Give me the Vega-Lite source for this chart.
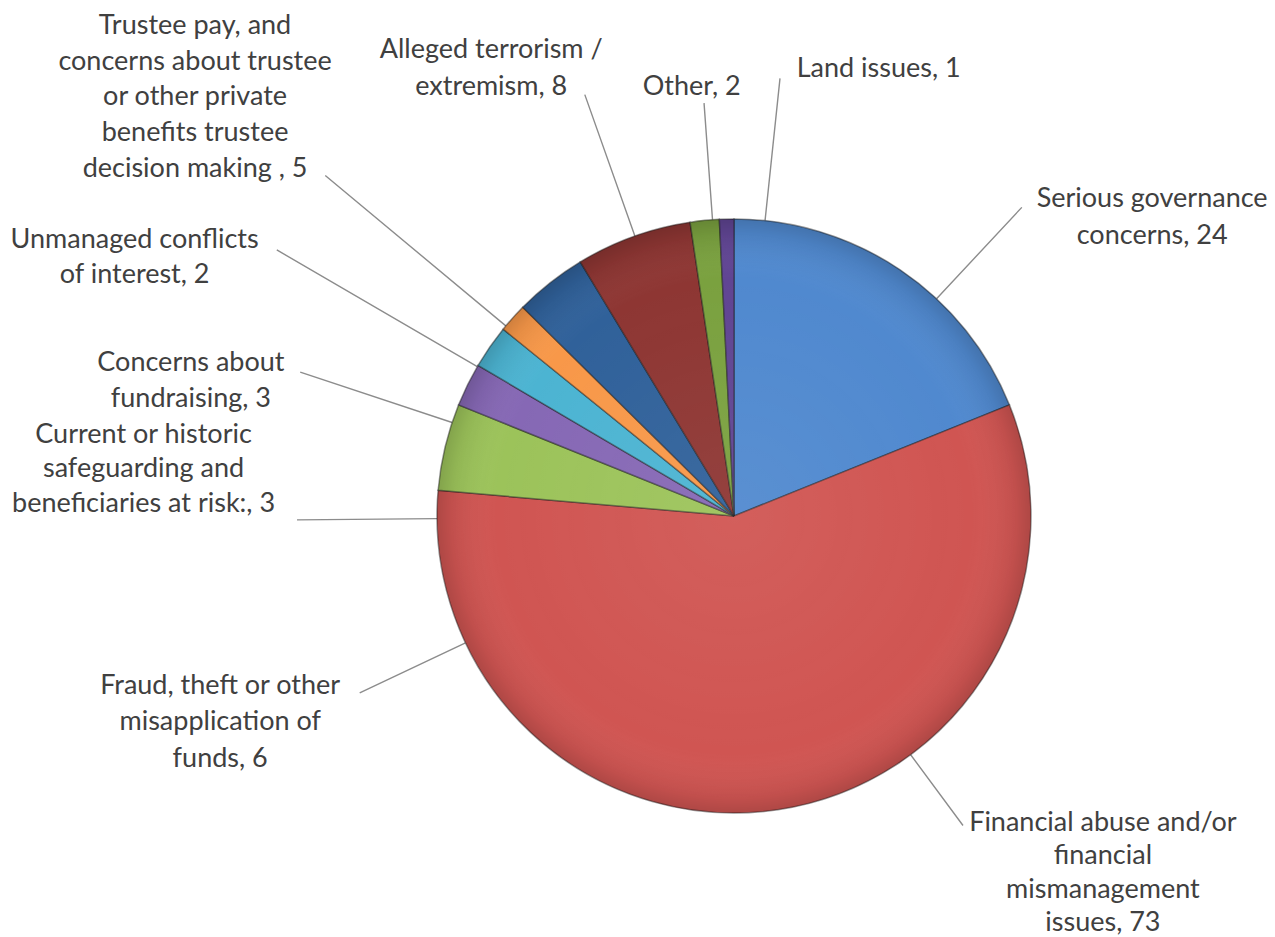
{
  "$schema": "https://vega.github.io/schema/vega-lite/v6.json",
  "width": 1082,
  "height": 842,
  "autosize": {"type": "none"},
  "padding": {"left": 193, "top": 95, "right": 0, "bottom": 0},
  "background": "#ffffff",
  "config": {
    "view": {"stroke": null},
    "text": {"font": "Lato", "fontSize": 27, "lineHeight": 35.5, "lineBreak": "\n", "color": "#404040", "align": "center", "baseline": "middle", "radius": 297},
    "arc": {"stroke": "#8c8c8c", "strokeWidth": 1.4, "fillOpacity": 0, "innerRadius": 297}
  },
  "data": {
    "values": [
      {"rank": 1, "category": "Serious governance concerns", "count": 24, "label": "Serious governance\nconcerns, 24"},
      {"rank": 2, "category": "Financial abuse and/or financial mismanagement issues", "count": 73, "label": "Financial abuse and/or\nfinancial\nmismanagement\nissues, 73"},
      {"rank": 3, "category": "Fraud, theft or other misapplication of funds", "count": 6, "label": "Fraud, theft or other\nmisapplication of\nfunds, 6"},
      {"rank": 4, "category": "Current or historic safeguarding and beneficiaries at risk:", "count": 3, "label": "Current or historic\nsafeguarding and\nbeneficiaries at risk:, 3"},
      {"rank": 5, "category": "Concerns about fundraising", "count": 3, "label": "Concerns about\nfundraising, 3"},
      {"rank": 6, "category": "Unmanaged conflicts of interest", "count": 2, "label": "Unmanaged conflicts\nof interest, 2"},
      {"rank": 7, "category": "Trustee pay, and concerns about trustee or other private benefits trustee decision making", "count": 5, "label": "Trustee pay, and\nconcerns about trustee\nor other private\nbenefits trustee\ndecision making , 5"},
      {"rank": 8, "category": "Alleged terrorism / extremism", "count": 8, "label": "Alleged terrorism /\nextremism, 8"},
      {"rank": 9, "category": "Other", "count": 2, "label": "Other, 2"},
      {"rank": 10, "category": "Land issues", "count": 1, "label": "Land issues, 1"}
    ]
  },
  "encoding": {
    "theta": {"field": "count", "type": "quantitative", "stack": true},
    "order": {"field": "rank", "type": "quantitative"},
    "detail": {"field": "category", "type": "nominal"}
  },
  "layer": [
    {"transform": [{"stack": "count", "groupby": [], "sort": [{"field": "rank", "order": "ascending"}], "as": ["t0", "t1"]}, {"filter": "datum.rank == 1"}],
     "mark": {"type": "arc", "outerRadius": 422, "thetaOffset": 0.7505, "theta2Offset": 0.7505},
     "encoding": {"theta": {"field": "t0", "type": "quantitative", "stack": null}, "theta2": {"field": "t0"}}},
    {"transform": [{"stack": "count", "groupby": [], "sort": [{"field": "rank", "order": "ascending"}], "as": ["t0", "t1"]}, {"filter": "datum.rank == 2"}],
     "mark": {"type": "arc", "outerRadius": 385, "thetaOffset": 1.3172, "theta2Offset": 1.3172},
     "encoding": {"theta": {"field": "t0", "type": "quantitative", "stack": null}, "theta2": {"field": "t0"}}},
    {"transform": [{"stack": "count", "groupby": [], "sort": [{"field": "rank", "order": "ascending"}], "as": ["t0", "t1"]}, {"filter": "datum.rank == 3"}],
     "mark": {"type": "arc", "outerRadius": 414, "thetaOffset": -0.5282, "theta2Offset": -0.5282},
     "encoding": {"theta": {"field": "t0", "type": "quantitative", "stack": null}, "theta2": {"field": "t0"}}},
    {"transform": [{"stack": "count", "groupby": [], "sort": [{"field": "rank", "order": "ascending"}], "as": ["t0", "t1"]}, {"filter": "datum.rank == 4"}],
     "mark": {"type": "arc", "outerRadius": 437, "thetaOffset": -0.3922, "theta2Offset": -0.3922},
     "encoding": {"theta": {"field": "t0", "type": "quantitative", "stack": null}, "theta2": {"field": "t0"}}},
    {"transform": [{"stack": "count", "groupby": [], "sort": [{"field": "rank", "order": "ascending"}], "as": ["t0", "t1"]}, {"filter": "datum.rank == 5"}],
     "mark": {"type": "arc", "outerRadius": 457, "thetaOffset": -0.2116, "theta2Offset": -0.2116},
     "encoding": {"theta": {"field": "t0", "type": "quantitative", "stack": null}, "theta2": {"field": "t0"}}},
    {"transform": [{"stack": "count", "groupby": [], "sort": [{"field": "rank", "order": "ascending"}], "as": ["t0", "t1"]}, {"filter": "datum.rank == 6"}],
     "mark": {"type": "arc", "outerRadius": 529, "thetaOffset": -0.1532, "theta2Offset": -0.1532},
     "encoding": {"theta": {"field": "t0", "type": "quantitative", "stack": null}, "theta2": {"field": "t0"}}},
    {"transform": [{"stack": "count", "groupby": [], "sort": [{"field": "rank", "order": "ascending"}], "as": ["t0", "t1"]}, {"filter": "datum.rank == 7"}],
     "mark": {"type": "arc", "outerRadius": 532, "thetaOffset": -0.0846, "theta2Offset": -0.0846},
     "encoding": {"theta": {"field": "t0", "type": "quantitative", "stack": null}, "theta2": {"field": "t0"}}},
    {"transform": [{"stack": "count", "groupby": [], "sort": [{"field": "rank", "order": "ascending"}], "as": ["t0", "t1"]}, {"filter": "datum.rank == 8"}],
     "mark": {"type": "arc", "outerRadius": 447, "thetaOffset": 0.2039, "theta2Offset": 0.2039},
     "encoding": {"theta": {"field": "t0", "type": "quantitative", "stack": null}, "theta2": {"field": "t0"}}},
    {"transform": [{"stack": "count", "groupby": [], "sort": [{"field": "rank", "order": "ascending"}], "as": ["t0", "t1"]}, {"filter": "datum.rank == 9"}],
     "mark": {"type": "arc", "outerRadius": 414, "thetaOffset": 0.0760, "theta2Offset": 0.0760},
     "encoding": {"theta": {"field": "t0", "type": "quantitative", "stack": null}, "theta2": {"field": "t0"}}},
    {"transform": [{"stack": "count", "groupby": [], "sort": [{"field": "rank", "order": "ascending"}], "as": ["t0", "t1"]}, {"filter": "datum.rank == 10"}],
     "mark": {"type": "arc", "outerRadius": 440, "thetaOffset": 0.1542, "theta2Offset": 0.1542},
     "encoding": {"theta": {"field": "t0", "type": "quantitative", "stack": null}, "theta2": {"field": "t0"}}},
    {"mark": {"type": "arc", "innerRadius": 0, "outerRadius": 297, "stroke": "#1a1a1a", "strokeOpacity": 0.45, "strokeWidth": 1.5, "fillOpacity": 1},
     "encoding": {
       "color": {"field": "category", "type": "nominal", "legend": null,
         "scale": {
           "domain": ["Serious governance concerns", "Financial abuse and/or financial mismanagement issues", "Fraud, theft or other misapplication of funds", "Current or historic safeguarding and beneficiaries at risk:", "Concerns about fundraising", "Unmanaged conflicts of interest", "Trustee pay, and concerns about trustee or other private benefits trustee decision making", "Alleged terrorism / extremism", "Other", "Land issues"],
           "range": ["#5089cf", "#d05552", "#9cc35a", "#8668b5", "#4cb4d2", "#f89849", "#30619a", "#8e3633", "#7aa13f", "#604593"]
         }}
     }},
    {"transform": [{"aggregate": [{"op": "sum", "field": "count", "as": "count"}]}],
     "mark": {"type": "arc", "innerRadius": 0, "outerRadius": 297, "strokeWidth": 0, "stroke": null, "fillOpacity": 1,
       "fill": {"gradient": "radial", "x1": 0.5, "y1": 0.5, "r1": 0, "x2": 0.5, "y2": 0.5, "r2": 0.5,
         "stops": [
           {"offset": 0, "color": "rgba(255,255,255,0.06)"},
           {"offset": 0.8, "color": "rgba(255,255,255,0)"},
           {"offset": 0.95, "color": "rgba(0,0,0,0.07)"},
           {"offset": 1, "color": "rgba(0,0,0,0.16)"}
         ]}},
     "encoding": {"order": null, "detail": null}},
    {"mark": {"type": "text", "dx": 252, "dy": -71, "lineHeight": 37},
     "encoding": {"text": {"condition": {"test": "datum.rank == 1", "field": "label"}, "value": ""}}},
    {"mark": {"type": "text", "dx": 325, "dy": 13, "lineHeight": 33.5},
     "encoding": {"text": {"condition": {"test": "datum.rank == 2", "field": "label"}, "value": ""}}},
    {"mark": {"type": "text", "dx": -225, "dy": 239, "lineHeight": 36.5},
     "encoding": {"text": {"condition": {"test": "datum.rank == 3", "field": "label"}, "value": ""}}},
    {"mark": {"type": "text", "dx": -324, "dy": 50, "lineHeight": 34.5},
     "encoding": {"text": {"condition": {"test": "datum.rank == 4", "field": "label"}, "value": ""}}},
    {"mark": {"type": "text", "dx": -299, "dy": 16, "lineHeight": 36},
     "encoding": {"text": {"condition": {"test": "datum.rank == 5", "field": "label"}, "value": ""}}},
    {"mark": {"type": "text", "dx": -378, "dy": -78},
     "encoding": {"text": {"condition": {"test": "datum.rank == 6", "field": "label"}, "value": ""}}},
    {"mark": {"type": "text", "dx": -355, "dy": -257, "lineHeight": 35.8},
     "encoding": {"text": {"condition": {"test": "datum.rank == 7", "field": "label"}, "value": ""}}},
    {"mark": {"type": "text", "dx": -142, "dy": -187, "lineHeight": 37},
     "encoding": {"text": {"condition": {"test": "datum.rank == 8", "field": "label"}, "value": ""}}},
    {"mark": {"type": "text", "dx": -13, "dy": -133},
     "encoding": {"text": {"condition": {"test": "datum.rank == 9", "field": "label"}, "value": ""}}},
    {"mark": {"type": "text", "dx": 70, "dy": -150, "align": "left"},
     "encoding": {"text": {"condition": {"test": "datum.rank == 10", "field": "label"}, "value": ""}}}
  ]
}
